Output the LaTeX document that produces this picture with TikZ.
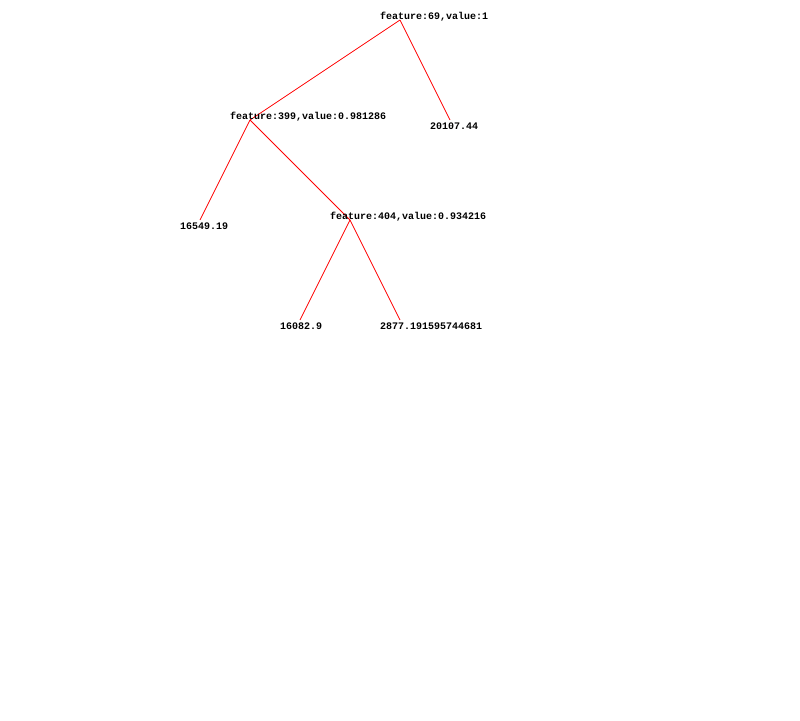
\documentclass[tikz,border=0pt]{standalone}
\usepackage{fontspec}
\newfontfamily\treefont{Liberation Mono}
\usetikzlibrary{positioning}

\begin{document}
\begin{tikzpicture}[x=1pt,y=-1pt,
    label text/.style={font=\treefont\bfseries\fontsize{10}{12}\selectfont,
        inner sep=0pt,anchor=base west,xshift=-20pt},
    split/.style={label text,yshift=1pt},
    leaf/.style={label text,yshift=-9.5pt},
    edge/.style={draw=red,line width=0.8pt}]
    \fill[white] (0,0) rectangle (800,720);
    \useasboundingbox (0,0) rectangle (800,720);
    % points of the tree
    \coordinate (f69)  at (400,20);
    \coordinate (f399) at (250,120);
    \coordinate (v201) at (450,120);
    \coordinate (v165) at (200,220);
    \coordinate (f404) at (350,220);
    \coordinate (v160) at (300,320);
    \coordinate (v287) at (400,320);

    \draw[edge] (f69) -- (f399);
    \draw[edge] (f69) -- (v201);
    \draw[edge] (f399) -- (v165);
    \draw[edge] (f399) -- (f404);
    \draw[edge] (f404) -- (v160);
    \draw[edge] (f404) -- (v287);

    \node[split] (f69 text)  at (f69)  {feature:69,value:1};
    \node[split] (f399 text) at (f399) {feature:399,value:0.981286};
    \node[split] (f404 text) at (f404) {feature:404,value:0.934216};
    \node[leaf]  (v201 text) at (v201) {20107.44};
    \node[leaf]  (v165 text) at (v165) {16549.19};
    \node[leaf]  (v160 text) at (v160) {16082.9};
    \node[leaf]  (v287 text) at (v287) {2877.191595744681};
\end{tikzpicture}
\end{document}
